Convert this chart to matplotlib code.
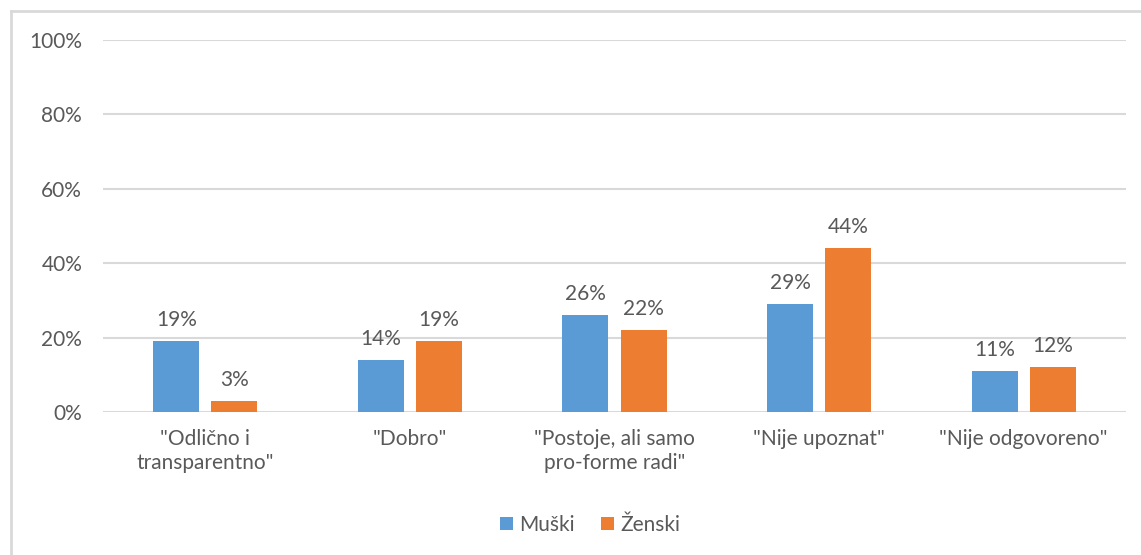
import numpy as np
import matplotlib.pyplot as plt
from matplotlib.lines import Line2D

kategorije = ['"Odlično i\ntransparentno"', '"Dobro"', '"Postoje, ali samo\npro-forme radi"',
              '"Nije upoznat"', '"Nije odgovoreno"']
muski = [19, 14, 26, 29, 11]
zenski = [3, 19, 22, 44, 12]
serije = ['Muški', 'Ženski']

plava = '#5B9BD5'
narandzasta = '#ED7D31'
siva = '#595959'

plt.rcParams['font.family'] = ['Lato', 'DejaVu Sans']

fig = plt.figure(figsize=(11.41, 5.55), dpi=100)
ax = fig.add_axes([103/1141, 1 - 412/555, 1023/1141, 372/555])

x = np.arange(len(kategorije))
w = 0.225
b1 = ax.bar(x - 0.142, muski, w, color=plava, label=serije[0], zorder=3)
b2 = ax.bar(x + 0.142, zenski, w, color=narandzasta, label=serije[1], zorder=3)

for bars, vals in ((b1, muski), (b2, zenski)):
    for r, v in zip(bars, vals):
        ax.text(r.get_x() + r.get_width()/2, v + 3, f'{v}%', ha='center', va='bottom',
                fontsize=15, color=siva)

ax.set_xlim(-0.5, 4.5)
ax.set_ylim(0, 100)
ax.set_yticks(range(0, 101, 20))
ax.set_yticklabels([f'{t}%' for t in range(0, 101, 20)])
ax.set_xticks(x)
ax.set_xticklabels(kategorije, linespacing=1.3)
ax.tick_params(axis='both', length=0, labelsize=15, labelcolor=siva)
ax.tick_params(axis='y', pad=15)
ax.tick_params(axis='x', pad=12)
ax.grid(axis='y', color='#D9D9D9', linewidth=1.5, zorder=0)
for s in ax.spines.values():
    s.set_visible(False)

fig.legend(handles=[b1, b2], labels=serije, loc='center', bbox_to_anchor=(590/1141, 1 - 525/555),
           ncol=2, frameon=False, fontsize=15, labelcolor=siva, handlelength=0.6, handleheight=0.6,
           handletextpad=0.3, columnspacing=1.3)

# okvir grafikona (gornja i lijeva ivica)
fig.add_artist(Line2D([11/1141, 1], [1 - 11/555] * 2, color='#D9D9D9', linewidth=2))
fig.add_artist(Line2D([11/1141] * 2, [0, 1 - 11/555], color='#D9D9D9', linewidth=2))

plt.savefig('out.png', dpi=100)
